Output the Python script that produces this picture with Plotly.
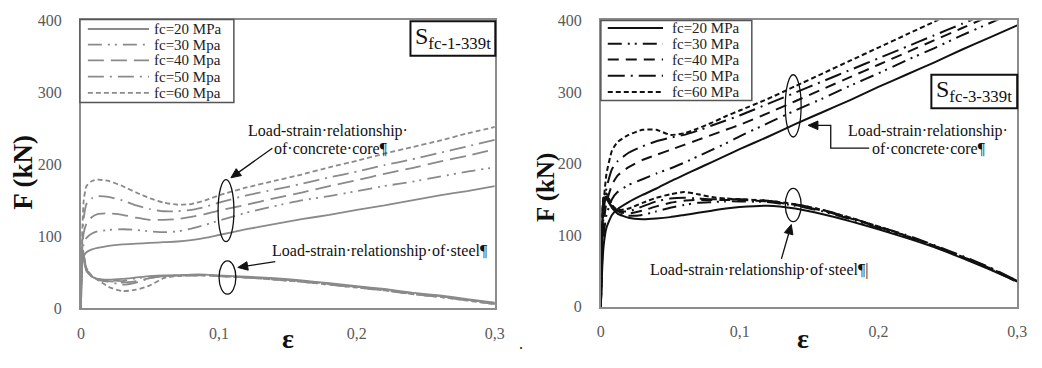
import math
import plotly.graph_objects as go

W, H = 1042, 368

# strain sampling points shared by every curve
EPS = [0, 0.0005, 0.001, 0.002, 0.004, 0.008, 0.012, 0.02, 0.03, 0.04, 0.05,
       0.06, 0.07, 0.08, 0.09, 0.10, 0.12, 0.14, 0.16, 0.18, 0.20, 0.22,
       0.24, 0.26, 0.28, 0.30]

LABELS_1 = ["fc=20 MPa", "fc=30 Mpa", "fc=40 Mpa", "fc=50 Mpa", "fc=60 Mpa"]
LABELS_3 = ["fc=20 MPa", "fc=30 MPa", "fc=40 MPa", "fc=50 MPa", "fc=60 MPa"]

XTICK_VALS = [0, 0.1, 0.2, 0.3]
XTICK_TEXT = ["0", "0,1", "0,2", "0,3"]
YTICK_VALS = [0, 100, 200, 300, 400]

# ---- S fc-1-339t : concrete core (kN)
core1_fc20 = [0, 45, 62, 72, 78, 82, 84, 87, 89, 90, 91, 92, 93, 95, 98, 102,
              110, 117, 124, 130, 137, 143, 150, 157, 163, 170]
core1_fc30 = [0, 50, 75, 90, 98, 104, 107, 109, 110, 109, 107, 106, 107, 111,
              116, 122, 133, 142, 150, 156, 163, 170, 176, 183, 190, 196]
core1_fc40 = [0, 55, 85, 105, 118, 127, 131, 132, 130, 126, 123, 123, 124, 127,
              131, 136, 144, 153, 161, 170, 178, 187, 195, 204, 212, 221]
core1_fc50 = [0, 60, 95, 125, 145, 153, 156, 155, 150, 143, 138, 135, 135, 137,
              141, 147, 157, 165, 173, 182, 190, 199, 207, 216, 225, 234]
core1_fc60 = [0, 65, 110, 150, 170, 177, 179, 177, 170, 161, 153, 147, 144, 145,
              150, 157, 168, 177, 186, 196, 205, 215, 224, 233, 243, 252]

# ---- S fc-1-339t : steel tube (kN)
steel1_fc20 = [0, 60, 75, 68, 52, 44, 41, 40, 41, 43, 45, 46, 46, 47, 47, 46,
               44, 42, 39, 35, 31, 27, 22, 18, 13, 8]
steel1_fc30 = [0, 62, 78, 70, 53, 44, 41, 39, 38, 42, 44, 45, 46, 46, 46, 45,
               43, 41, 38, 34, 30, 26, 21, 17, 12, 7]
steel1_fc40 = [0, 64, 80, 72, 54, 45, 41, 38, 36, 38, 42, 45, 46, 46, 46, 45,
               43, 41, 38, 34, 30, 26, 21, 17, 12, 7]
steel1_fc50 = [0, 66, 82, 74, 55, 45, 40, 37, 33, 36, 42, 45, 46, 46, 46, 45,
               43, 40, 37, 33, 29, 25, 20, 16, 11, 6]
steel1_fc60 = [0, 68, 85, 76, 56, 45, 40, 30, 24, 26, 32, 42, 45, 46, 46, 45,
               43, 40, 37, 33, 29, 25, 20, 16, 11, 6]

# ---- S fc-3-339t : concrete core (kN), None once the curve has left the frame
core3_fc20 = [0, 30, 55, 85, 110, 128, 136, 146, 156, 165, 175, 184, 193, 202,
              211, 220, 237, 255, 272, 289, 307, 324, 341, 359, 376, 393]
core3_fc30 = [0, 40, 70, 100, 128, 150, 160, 170, 178, 186, 193, 201, 210, 219,
              228, 238, 256, 274, 291, 309, 326, 344, 361, 379, 396, 413]
core3_fc40 = [0, 45, 80, 115, 145, 170, 183, 195, 205, 212, 219, 226, 233, 240,
              247, 254, 270, 287, 304, 321, 338, 355, 372, 389, 406, None]
core3_fc50 = [0, 50, 90, 130, 165, 192, 203, 215, 224, 231, 236, 240, 246, 253,
              260, 267, 283, 299, 315, 331, 347, 363, 379, 395, 411, None]
core3_fc60 = [0, 55, 100, 145, 185, 218, 230, 240, 247, 247, 240, 242, 249, 257,
              266, 274, 290, 308, 326, 344, 362, 380, 398, 416, None, None]

# ---- S fc-3-339t : steel tube (kN)
steel3_fc20 = [0, 60, 110, 145, 150, 138, 130, 124, 122, 123, 125, 128, 131, 134,
               137, 139, 141, 137, 129, 119, 108, 96, 83, 68, 52, 35]
steel3_fc30 = [0, 62, 112, 148, 152, 139, 131, 127, 128, 133, 138, 142, 145, 146,
               147, 147, 146, 141, 133, 122, 110, 98, 84, 69, 53, 35]
steel3_fc40 = [0, 64, 115, 150, 154, 140, 133, 130, 134, 140, 145, 148, 149, 149,
               149, 149, 147, 142, 134, 123, 111, 99, 85, 70, 54, 36]
steel3_fc50 = [0, 66, 118, 152, 156, 141, 134, 133, 140, 147, 151, 152, 151, 150,
               150, 150, 148, 143, 135, 124, 112, 100, 86, 71, 55, 36]
steel3_fc60 = [0, 68, 120, 155, 158, 142, 135, 137, 145, 152, 157, 160, 157, 153,
               151, 150, 148, 143, 135, 124, 112, 99, 85, 70, 54, 34]

CORE_1 = [core1_fc20, core1_fc30, core1_fc40, core1_fc50, core1_fc60]
STEEL_1 = [steel1_fc20, steel1_fc30, steel1_fc40, steel1_fc50, steel1_fc60]
CORE_3 = [core3_fc20, core3_fc30, core3_fc40, core3_fc50, core3_fc60]
STEEL_3 = [steel3_fc20, steel3_fc30, steel3_fc40, steel3_fc50, steel3_fc60]

# line styles
DASH_1 = ["solid", "14px,6px,2px,5px,2px,6px", "16px,7px", "16px,6px,2px,6px", "5px,3px"]
DASH_3 = ["solid", "14px,6px,2px,5px,2px,6px", "11px,7px", "17px,6px,2px,6px", "5px,3px"]
COLOR_1 = "#8a8a8a"
COLOR_3 = "#111111"
SERIF = "Liberation Serif, Times New Roman, serif"
FRAME = "#8c8c8c"


def px_x(p):
    return p / W


def px_y(p):
    return 1 - p / H


fig = go.Figure()

for vals, dash in zip(CORE_1 + STEEL_1, DASH_1 + DASH_1):
    fig.add_trace(go.Scatter(x=EPS, y=vals, mode="lines", xaxis="x", yaxis="y",
                             line=dict(color=COLOR_1, width=1.8, dash=dash,
                                       shape="spline", smoothing=0.5),
                             showlegend=False, hoverinfo="skip"))
for vals, dash in zip(CORE_3 + STEEL_3, DASH_3 + DASH_3):
    fig.add_trace(go.Scatter(x=EPS, y=vals, mode="lines", xaxis="x2", yaxis="y2",
                             line=dict(color=COLOR_3, width=2.0, dash=dash,
                                       shape="spline", smoothing=0.5),
                             showlegend=False, hoverinfo="skip"))

tickfont = dict(family=SERIF, size=16, color="#5a5a5a")
xcommon = dict(range=[0, 0.3], tickvals=XTICK_VALS, ticktext=XTICK_TEXT,
               showgrid=False, zeroline=False, showline=True, linecolor=FRAME,
               linewidth=2, mirror=True, ticks="", tickfont=tickfont,
               ticklabelstandoff=9)
ycommon = dict(range=[0, 400], tickvals=YTICK_VALS, showgrid=False,
               zeroline=False, showline=True, linecolor=FRAME, linewidth=2,
               mirror=True, ticks="", tickfont=tickfont, ticklabelstandoff=14)

fig.update_layout(
    width=W, height=H,
    margin=dict(l=0, r=0, t=0, b=0),
    paper_bgcolor="white", plot_bgcolor="white",
    showlegend=False,
    xaxis=dict(domain=[px_x(78), px_x(497.5)], anchor="y", **xcommon),
    yaxis=dict(domain=[px_y(315), px_y(13)], anchor="x", **ycommon),
    xaxis2=dict(domain=[px_x(605), px_x(1027)], anchor="y2", **xcommon),
    yaxis2=dict(domain=[px_y(313), px_y(13)], anchor="x2", **ycommon),
)

shapes = []
annotations = []


def legend_block(x0, y0, x1, y1, rows, g0, g1, tx, labels, dashes, color, width):
    shapes.append(dict(type="rect", xref="paper", yref="paper",
                       x0=px_x(x0), x1=px_x(x1), y0=px_y(y1), y1=px_y(y0),
                       line=dict(color="#555555", width=1.5),
                       fillcolor="white", layer="above"))
    for ry, lab, dash in zip(rows, labels, dashes):
        shapes.append(dict(type="line", xref="paper", yref="paper",
                           x0=px_x(g0), x1=px_x(g1), y0=px_y(ry), y1=px_y(ry),
                           line=dict(color=color, width=width, dash=dash),
                           layer="above"))
        annotations.append(dict(text=lab, xref="paper", yref="paper",
                                x=px_x(tx), y=px_y(ry), xanchor="left",
                                yanchor="middle", showarrow=False, borderpad=0,
                                font=dict(family=SERIF, size=15, color="#222")))


legend_block(77, 12, 233, 99, [22, 38.5, 55, 72, 89], 85, 147, 151,
             LABELS_1, DASH_1, COLOR_1, 1.8)
legend_block(605, 13, 758, 97, [21, 37.5, 54, 71, 88], 612, 668, 676,
             LABELS_3, DASH_3, COLOR_3, 2.0)

# specimen name boxes
for (bx0, by0, bx1, by1, name) in [(412, 14, 498, 50, "fc-1-339t"),
                                   (940, 70, 1027, 105, "fc-3-339t")]:
    shapes.append(dict(type="rect", xref="paper", yref="paper",
                       x0=px_x(bx0), x1=px_x(bx1), y0=px_y(by1), y1=px_y(by0),
                       line=dict(color="#111", width=2), fillcolor="white",
                       layer="above"))
    annotations.append(dict(text="S<sub>" + name + "</sub>", xref="paper",
                            yref="paper", x=px_x((bx0 + bx1) / 2),
                            y=px_y((by0 + by1) / 2 - 1), xanchor="center",
                            yanchor="middle", showarrow=False,
                            font=dict(family=SERIF, size=24, color="#111")))

# ellipses around the curve groups
for xr, yr, e0, e1, f0, f1 in [("x", "y", 0.0994, 0.1109, 92.7, 178.8),
                               ("x", "y", 0.1001, 0.1123, 19.9, 66.2),
                               ("x2", "y2", 0.1329, 0.1443, 237, 324),
                               ("x2", "y2", 0.1329, 0.1443, 118.7, 165.3)]:
    shapes.append(dict(type="circle", xref=xr, yref=yr, x0=e0, x1=e1,
                       y0=f0, y1=f1, line=dict(color="#111", width=1.3)))


def paper_path(points, close=False):
    d = " ".join(("M" if i == 0 else "L") + f" {px_x(a):.5f},{px_y(b):.5f}"
                 for i, (a, b) in enumerate(points))
    return d + (" Z" if close else "")


def leader(points, head_len=10, head_half=4.5):
    """Polyline (pixel coords) ending in a filled arrowhead at its last point."""
    (x0, y0), (x1, y1) = points[-2], points[-1]
    L = math.hypot(x1 - x0, y1 - y0)
    ux, uy = (x1 - x0) / L, (y1 - y0) / L
    bx, by = x1 - ux * head_len, y1 - uy * head_len
    shaft = points[:-1] + [(bx, by)]
    shapes.append(dict(type="path", xref="paper", yref="paper",
                       path=paper_path(shaft),
                       line=dict(color="#111", width=1.3)))
    tri = [(x1, y1), (bx - uy * head_half, by + ux * head_half),
           (bx + uy * head_half, by - ux * head_half)]
    shapes.append(dict(type="path", xref="paper", yref="paper",
                       path=paper_path(tri, close=True), fillcolor="#111",
                       line=dict(color="#111", width=1)))


leader([(272, 147), (230, 178)])
leader([(275, 266), (237, 272)])
leader([(877, 147), (838, 147), (838, 123), (815, 123)])
leader([(788, 263), (798, 227)])

note_font = dict(family=SERIF, size=16, color="#111")


def note(text, xr, yr, x, y):
    annotations.append(dict(text=text, xref=xr, yref=yr, x=x, y=y,
                            xanchor="left", yanchor="middle", showarrow=False,
                            font=note_font))


note("Load-strain·relationship·", "x", "y", 0.1195, 246)
note("of·concrete·core¶", "x", "y", 0.1387, 222.5)
note("Load-strain·relationship·of·steel¶", "x", "y", 0.1373, 79.5)

note("Load-strain·relationship·", "x2", "y2", 0.1763, 245)
note("of·concrete·core¶", "x2", "y2", 0.1940, 221.3)
note("Load-strain·relationship·of·steel¶|", "x2", "y2", 0.0341, 50.7)

# axis titles
for (cx, cy, fs) in [(19, 172, 27), (550, 188, 25)]:
    annotations.append(dict(text="<b>F (kN)</b>", xref="paper", yref="paper",
                            x=px_x(cx), y=px_y(cy), textangle=-90,
                            xanchor="center", yanchor="middle", showarrow=False,
                            font=dict(family=SERIF, size=fs, color="#111")))
for (cx, cy) in [(288, 346), (810, 347)]:
    annotations.append(dict(text="<b>ε</b>", xref="paper", yref="paper",
                            x=px_x(cx), y=px_y(cy), xanchor="center",
                            yanchor="middle", showarrow=False,
                            font=dict(family=SERIF, size=28, color="#111")))

annotations.append(dict(text=".", xref="paper", yref="paper", x=px_x(524),
                        y=px_y(352), xanchor="center", yanchor="middle",
                        showarrow=False,
                        font=dict(family=SERIF, size=16, color="#111")))

fig.update_layout(shapes=shapes, annotations=annotations)
fig.write_html("out.html")
